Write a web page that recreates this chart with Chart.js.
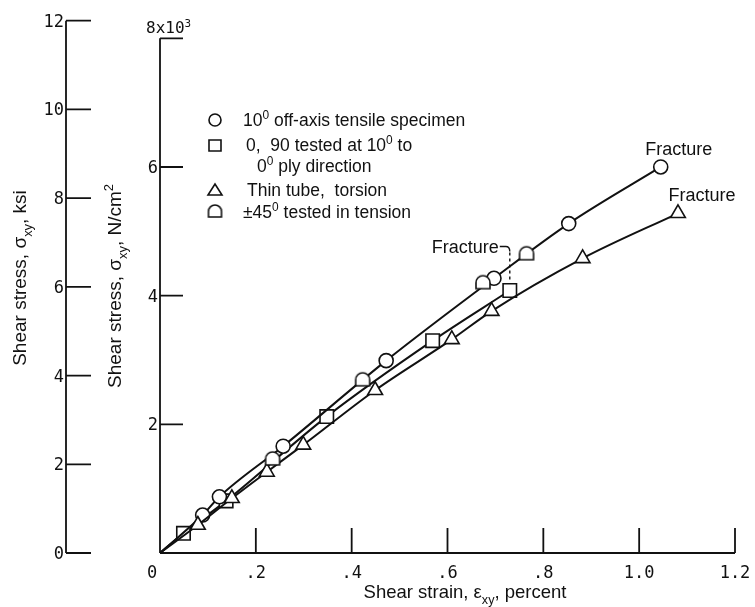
<!DOCTYPE html>
<html>
<head>
<meta charset="utf-8">
<title>Shear stress vs shear strain</title>
<script src="https://cdn.jsdelivr.net/npm/chart.js@4.4.1/dist/chart.umd.min.js"></script>
<style>
  body { margin: 0; background: #fff; }
  #wrap { width: 755px; height: 607px; }
</style>
</head>
<body>
<div id="wrap"><canvas id="stressChart"></canvas></div>
<script>
// shear strain (percent) / shear stress (10^3 N/cm^2)
const strainOffAxis = [0, 0.089, 0.124, 0.257, 0.472, 0.697, 0.853, 1.045];
const stressOffAxis = [0, 0.59, 0.874, 1.66, 2.99, 4.27, 5.12, 6.00];

const strainCrossPly = [0, 0.049, 0.138, 0.348, 0.569, 0.730];
const stressCrossPly = [0, 0.306, 0.81, 2.12, 3.30, 4.08];

const strainTube = [0, 0.079, 0.150, 0.223, 0.299, 0.449, 0.609, 0.692, 0.882, 1.081];
const stressTube = [0, 0.435, 0.85, 1.26, 1.68, 2.53, 3.32, 3.76, 4.58, 5.28];

const strainPm45 = [0.235, 0.423, 0.674, 0.765];
const stressPm45 = [1.47, 2.70, 4.21, 4.66];

// tick labels
const strainTicks = [0.2, 0.4, 0.6, 0.8, 1.0, 1.2];
const strainTickLabels = [".2", ".4", ".6", ".8", "1.0", "1.2"];
const stressTicks = [2, 4, 6, 8];
const stressTickLabels = ["2", "4", "6", "8x10"];
const ksiTicks = [0, 2, 4, 6, 8, 10, 12];

const KSI_TO_NCM2 = 0.68948; // 1 ksi = 689.48 N/cm^2
const STRESS_MAX = 8.3;

const FONT = '"Liberation Sans", Arial, sans-serif';
const TICK_FONT = '"DejaVu Sans Mono", "Liberation Mono", monospace';
const INK = "#111";

function toPoints(xs, ys) {
  return xs.map((x, i) => ({ x: x, y: ys[i] }));
}

// half-round marker for the +-45 specimens
function halfRoundMarker(w, h) {
  const c = document.createElement("canvas");
  c.width = w + 4;
  c.height = h + 4;
  const g = c.getContext("2d");
  const r = w / 2;
  const cx = c.width / 2;
  const bottom = 2 + h;
  g.beginPath();
  g.moveTo(cx - r, bottom);
  g.lineTo(cx - r, 2 + r);
  g.arc(cx, 2 + r, r, Math.PI, 2 * Math.PI);
  g.lineTo(cx + r, bottom);
  g.closePath();
  g.fillStyle = "#fff";
  g.fill();
  g.lineWidth = 1.6;
  g.strokeStyle = INK;
  g.stroke();
  return c;
}
const halfRound = halfRoundMarker(14, 13);
const halfRoundSmall = halfRoundMarker(13, 12);

// text with super/subscripts: parts = [[text, 0|1|-1], ...]
function richWidth(ctx, parts, size, family) {
  let w = 0;
  parts.forEach(([t, s]) => {
    ctx.font = (s ? size * 0.68 : size) + "px " + family;
    w += ctx.measureText(t).width;
  });
  return w;
}
function drawRich(ctx, parts, x, y, size, align, family) {
  family = family || FONT;
  const w = richWidth(ctx, parts, size, family);
  let cx = x;
  if (align === "center") cx = x - w / 2;
  if (align === "right") cx = x - w;
  ctx.textAlign = "left";
  ctx.textBaseline = "alphabetic";
  ctx.fillStyle = INK;
  parts.forEach(([t, s]) => {
    const sz = s ? size * 0.68 : size;
    ctx.font = sz + "px " + family;
    const dy = s === 1 ? -size * 0.42 : s === -1 ? size * 0.3 : 0;
    ctx.fillText(t, cx, y + dy);
    cx += ctx.measureText(t).width;
  });
}

const axesPlugin = {
  id: "axesPlugin",
  beforeDatasetsDraw(chart) {
    const ctx = chart.ctx;
    const x = chart.scales.x;
    const y = chart.scales.y;
    const ksi = chart.scales.ksi;
    const left = chart.chartArea.left;
    const ksiX = left - 94;
    ctx.save();
    ctx.strokeStyle = INK;
    ctx.lineWidth = 1.8;
    ctx.beginPath();
    // strain axis with upward ticks
    ctx.moveTo(left, y.getPixelForValue(0));
    ctx.lineTo(x.getPixelForValue(1.2), y.getPixelForValue(0));
    strainTicks.forEach((v) => {
      const px = x.getPixelForValue(v);
      ctx.moveTo(px, y.getPixelForValue(0));
      ctx.lineTo(px, y.getPixelForValue(0) - 25);
    });
    // N/cm^2 axis
    ctx.moveTo(left, y.getPixelForValue(0));
    ctx.lineTo(left, y.getPixelForValue(8));
    stressTicks.forEach((v) => {
      const py = y.getPixelForValue(v);
      ctx.moveTo(left, py);
      ctx.lineTo(left + 23, py);
    });
    // ksi axis
    ctx.moveTo(ksiX, ksi.getPixelForValue(0));
    ctx.lineTo(ksiX, ksi.getPixelForValue(12));
    ksiTicks.forEach((v) => {
      const py = ksi.getPixelForValue(v);
      ctx.moveTo(ksiX, py);
      ctx.lineTo(ksiX + 25, py);
    });
    ctx.stroke();

    // tick labels
    const base = y.getPixelForValue(0) + 25;
    drawRich(ctx, [["0", 0]], left - 8, base, 17, "center", TICK_FONT);
    strainTicks.forEach((v, i) => {
      drawRich(ctx, [[strainTickLabels[i], 0]], x.getPixelForValue(v), base, 17, "center", TICK_FONT);
    });
    stressTicks.forEach((v, i) => {
      const py = y.getPixelForValue(v);
      if (v === 8) {
        drawRich(ctx, [[stressTickLabels[i], 0], ["3", 1]], left - 14, py - 5, 16, "left", TICK_FONT);
      } else {
        drawRich(ctx, [[stressTickLabels[i], 0]], left - 2, py + 6, 17, "right", TICK_FONT);
      }
    });
    ksiTicks.forEach((v) => {
      drawRich(ctx, [[String(v), 0]], ksiX - 2, ksi.getPixelForValue(v) + 6, 17, "right", TICK_FONT);
    });

    // axis titles
    drawRich(ctx, [["Shear strain, \u03b5", 0], ["xy", -1], [", percent", 0]],
      465, 598, 18.5, "center");
    ctx.save();
    ctx.translate(20, 278);
    ctx.rotate(-Math.PI / 2);
    drawRich(ctx, [["Shear stress, \u03c3", 0], ["xy", -1], [", ksi", 0]], 0, 6, 19, "center");
    ctx.restore();
    ctx.save();
    ctx.translate(115, 286);
    ctx.rotate(-Math.PI / 2);
    drawRich(ctx, [["Shear stress, \u03c3", 0], ["xy", -1], [", N/cm", 0], ["2", 1]], 0, 6, 19, "center");
    ctx.restore();
    ctx.restore();
  },
  afterDatasetsDraw(chart) {
    const ctx = chart.ctx;
    ctx.save();
    // fracture notes, placed from the last point of each series
    const lastOf = (i) => {
      const d = chart.getDatasetMeta(i).data;
      return d[d.length - 1];
    };
    const c = lastOf(0);
    drawRich(ctx, [["Fracture", 0]], c.x + 18, c.y - 12, 18, "center");
    const t = lastOf(2);
    drawRich(ctx, [["Fracture", 0]], t.x + 24, t.y - 12, 18, "center");
    const s = lastOf(1);
    drawRich(ctx, [["Fracture", 0]], s.x - 11, s.y - 38, 18, "right");
    ctx.strokeStyle = INK;
    ctx.lineWidth = 1.4;
    ctx.beginPath();
    ctx.moveTo(s.x - 10, s.y - 44);
    ctx.lineTo(s.x - 4, s.y - 44);
    ctx.quadraticCurveTo(s.x, s.y - 44, s.x, s.y - 39);
    ctx.stroke();
    ctx.setLineDash([3, 3]);
    ctx.beginPath();
    ctx.moveTo(s.x, s.y - 38);
    ctx.lineTo(s.x, s.y - 9);
    ctx.stroke();
    ctx.setLineDash([]);

    // legend
    const mx = 215;
    const tx = 243;
    ctx.fillStyle = "#fff";
    ctx.lineWidth = 1.6;
    ctx.beginPath();
    ctx.arc(mx, 120, 6, 0, 2 * Math.PI);
    ctx.fill();
    ctx.stroke();
    ctx.beginPath();
    ctx.rect(mx - 6, 140, 12, 11);
    ctx.fill();
    ctx.stroke();
    ctx.beginPath();
    ctx.moveTo(mx - 7, 195);
    ctx.lineTo(mx + 7, 195);
    ctx.lineTo(mx, 184);
    ctx.closePath();
    ctx.fill();
    ctx.stroke();
    ctx.drawImage(halfRoundSmall, mx - halfRoundSmall.width / 2, 211 - halfRoundSmall.height / 2);

    const ls = 17.5;
    drawRich(ctx, [["10", 0], ["0", 1], [" off-axis tensile specimen", 0]], tx, 126, ls, "left");
    drawRich(ctx, [["0,  90 tested at 10", 0], ["0", 1], [" to", 0]], tx + 3, 151, ls, "left");
    drawRich(ctx, [["0", 0], ["0", 1], [" ply direction", 0]], tx + 14, 172, ls, "left");
    drawRich(ctx, [["Thin tube,  torsion", 0]], tx + 4, 196, ls, "left");
    drawRich(ctx, [["\u00b145", 0], ["0", 1], [" tested in tension", 0]], tx, 218, ls, "left");
    ctx.restore();
  },
};

// the origin is the start of each curve, not a plotted marker
const hideOrigin = (r) => (ctx) => (ctx.dataIndex === 0 ? 0 : r);

const ctx = document.getElementById("stressChart").getContext("2d");
new Chart(ctx, {
  type: "line",
  data: {
    datasets: [
      {
        label: "10\u00b0 off-axis tensile specimen",
        data: toPoints(strainOffAxis, stressOffAxis),
        borderColor: INK,
        borderWidth: 2,
        backgroundColor: "#fff",
        pointStyle: "circle",
        pointRadius: hideOrigin(7),
        pointBorderWidth: 1.6,
        cubicInterpolationMode: "monotone",
        order: 3,
      },
      {
        label: "0, 90 tested at 10\u00b0 to 0\u00b0 ply direction",
        data: toPoints(strainCrossPly, stressCrossPly),
        borderColor: INK,
        borderWidth: 2,
        backgroundColor: "#fff",
        pointStyle: "rect",
        pointRadius: hideOrigin(9.5),
        pointBorderWidth: 1.6,
        cubicInterpolationMode: "monotone",
        order: 4,
      },
      {
        label: "Thin tube, torsion",
        data: toPoints(strainTube, stressTube),
        borderColor: INK,
        borderWidth: 2,
        backgroundColor: "#fff",
        pointStyle: "triangle",
        pointRadius: hideOrigin(8.5),
        pointBorderWidth: 1.6,
        cubicInterpolationMode: "monotone",
        order: 2,
      },
      {
        label: "\u00b145\u00b0 tested in tension",
        data: toPoints(strainPm45, stressPm45),
        showLine: false,
        borderColor: INK,
        backgroundColor: "#fff",
        pointStyle: halfRound,
        pointRadius: 7,
        order: 1,
      },
    ],
  },
  options: {
    responsive: true,
    maintainAspectRatio: false,
    animation: false,
    layout: { padding: { left: 160, right: 20, top: 19, bottom: 54 } },
    plugins: { legend: { display: false }, tooltip: { enabled: false } },
    scales: {
      x: { type: "linear", min: 0, max: 1.2, display: false },
      y: { type: "linear", min: 0, max: STRESS_MAX, display: false },
      ksi: { type: "linear", position: "left", min: 0, max: STRESS_MAX / KSI_TO_NCM2, display: false },
    },
  },
  plugins: [axesPlugin],
});
</script>
</body>
</html>
